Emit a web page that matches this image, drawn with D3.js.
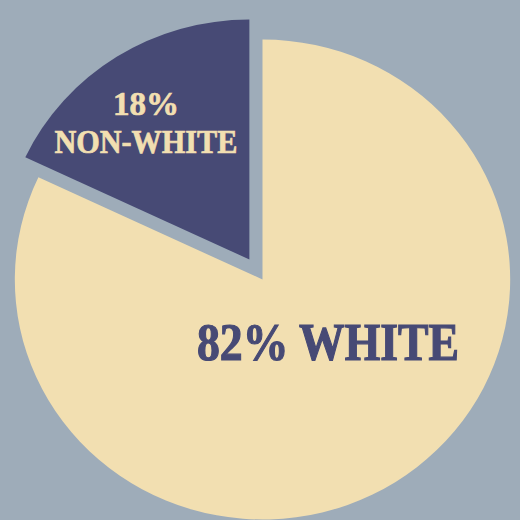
<!DOCTYPE html>
<html>
<head>
<meta charset="utf-8">
<script src="https://cdn.jsdelivr.net/npm/d3@7"></script>
<style>
  html, body { margin: 0; padding: 0; background: #9eacb9; }
  svg { display: block; }
</style>
</head>
<body>
<div id="chart"></div>
<script>
var groups = ["WHITE", "NON-WHITE"];
var shares = [82, 18];
var colors = ["#f2dfb1", "#474a75"];
var textColors = ["#474a75", "#f2dfb1"];

var width = 520;
var height = 520;
var radius = 240;
var cx = 262.5, cy = 279.5;
var explode = 23.7;

var svg = d3.select("#chart")
  .append("svg")
  .attr("width", width)
  .attr("height", height);

svg.append("rect")
  .attr("width", width)
  .attr("height", height)
  .attr("fill", "#9eacb9");

var g = svg.append("g")
  .attr("transform", "translate(" + cx + "," + cy + ") scale(1.032,1)");

var pie = d3.pie().sort(null).value(function (d) { return d; });
var arc = d3.arc().innerRadius(0).outerRadius(radius);
var arcs = pie(shares);

// pull the small slice out along its middle angle
function offset(d, i) {
  if (i === 0) return [0, 0];
  var a = (d.startAngle + d.endAngle) / 2;
  return [Math.sin(a) * explode, -Math.cos(a) * explode];
}

g.selectAll("path")
  .data(arcs)
  .enter()
  .append("path")
  .attr("d", arc)
  .attr("fill", function (d, i) { return colors[i]; })
  .attr("transform", function (d, i) {
    var o = offset(d, i);
    return "translate(" + o[0] + "," + o[1] + ")";
  });

var font = "'Liberation Serif', 'Times New Roman', serif";

// big label
svg.append("text")
  .attr("x", cx + 65.5)
  .attr("y", cy + 80.5)
  .attr("text-anchor", "middle")
  .attr("textLength", 262)
  .attr("lengthAdjust", "spacingAndGlyphs")
  .style("font-family", font)
  .style("font-weight", "bold")
  .style("font-size", "52px")
  .style("fill", textColors[0])
  .style("stroke", textColors[0])
  .style("stroke-width", 1.2)
  .text(shares[0] + "% " + groups[0]);

// small slice label
var o1 = offset(arcs[1], 1);
var lx = cx + o1[0] * 1.032 - 103.5;
var small = svg.append("text")
  .attr("text-anchor", "middle")
  .style("font-family", font)
  .style("font-weight", "bold")
  .style("font-size", "33px")
  .style("fill", textColors[1])
  .style("stroke", textColors[1])
  .style("stroke-width", 0.7);

small.append("tspan")
  .attr("x", lx + 0)
  .attr("y", 115)
  .text(shares[1] + "%");

small.append("tspan")
  .attr("x", lx)
  .attr("y", 153)
  .attr("textLength", 183)
  .attr("lengthAdjust", "spacingAndGlyphs")
  .text(groups[1]);
</script>
</body>
</html>
